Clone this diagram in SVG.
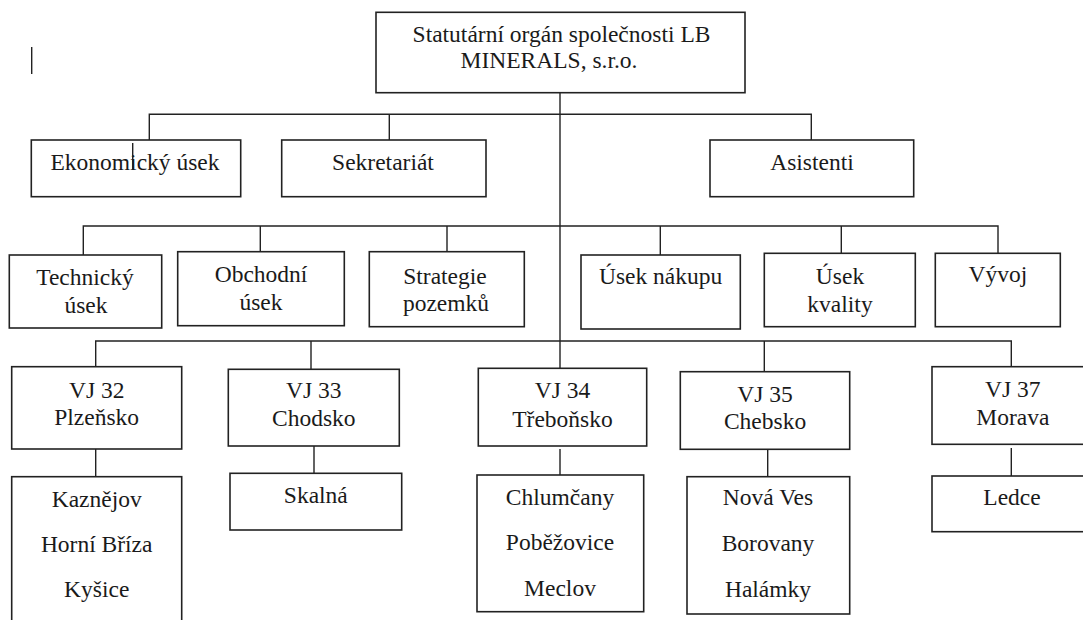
<svg xmlns="http://www.w3.org/2000/svg" width="1083" height="620" viewBox="0 0 1083 620">
<style>
.box{fill:#fff;stroke:#222;stroke-width:1.6}
.ln{fill:none;stroke:#222;stroke-width:1.4}
.t{font-family:"Liberation Serif","Times New Roman",serif;font-size:23.5px;fill:#1a1a1a;text-anchor:middle}
</style>
<rect width="1083" height="620" fill="#fff"/>
<g id="connectors">
<path class="ln" d="M560 93V341"/>
<path class="ln" d="M149.3 140V114.3H811.3V140M389.3 114.3V140"/>
<path class="ln" d="M83.3 255V226H998V253.3M260.3 226V251.7M447 226V251.7M660.3 226V255M841.3 226V253.3"/>
<path class="ln" d="M95.7 366.7V341H1011.3V366.7M311 341V369.3M764.3 341V371.7M560 341V368.3"/>
<path class="ln" d="M95.7 449V476.7M314 446V473.3M560 449V475M767.7 449.3V476.7M1011.3 448V476"/>
</g>
<g id="cursor">
<path class="ln" d="M31.7 47V74"/>
</g>
<g id="n-top" class="t">
<rect class="box" x="376" y="12.3" width="369" height="80.4"/>
<text x="561.5" y="41.7">Statutární orgán společnosti LB</text>
<text x="549" y="68.3">MINERALS, s.r.o.</text>
</g>
<g id="n-ekonomicky" class="t">
<rect class="box" x="31.3" y="140" width="209.4" height="56.7"/>
<text x="135" y="170">Ekonomický úsek</text>
<path class="ln" d="M132.7 143V170"/>
</g>
<g id="n-sekretariat" class="t">
<rect class="box" x="281.7" y="140" width="204.3" height="56.7"/>
<text x="383" y="170">Sekretariát</text>
</g>
<g id="n-asistenti" class="t">
<rect class="box" x="710" y="140" width="203.7" height="56.7"/>
<text x="812" y="170">Asistenti</text>
</g>
<g id="n-technicky" class="t">
<rect class="box" x="9.3" y="255" width="152.4" height="73"/>
<text x="85" y="285">Technický</text>
<text x="86" y="313">úsek</text>
</g>
<g id="n-obchodni" class="t">
<rect class="box" x="177.7" y="251.7" width="166.6" height="74"/>
<text x="261" y="282">Obchodní</text>
<text x="261" y="310">úsek</text>
</g>
<g id="n-strategie" class="t">
<rect class="box" x="369.3" y="251.7" width="155" height="75"/>
<text x="445" y="284">Strategie</text>
<text x="446" y="311">pozemků</text>
</g>
<g id="n-nakup" class="t">
<rect class="box" x="581" y="255" width="159.3" height="74"/>
<text x="660.6" y="284">Úsek nákupu</text>
</g>
<g id="n-kvalita" class="t">
<rect class="box" x="764.3" y="253.3" width="151" height="73.4"/>
<text x="840" y="284">Úsek</text>
<text x="840" y="311.7">kvality</text>
</g>
<g id="n-vyvoj" class="t">
<rect class="box" x="935.3" y="253.3" width="125" height="73.4"/>
<text x="997.8" y="281.7">Vývoj</text>
</g>
<g id="n-vj32" class="t">
<rect class="box" x="11.7" y="366.7" width="170" height="82.3"/>
<text x="96.7" y="398.3">VJ 32</text>
<text x="96.7" y="425">Plzeňsko</text>
</g>
<g id="n-vj33" class="t">
<rect class="box" x="228.3" y="369.3" width="171" height="76.7"/>
<text x="313.8" y="398.3">VJ 33</text>
<text x="313.8" y="426">Chodsko</text>
</g>
<g id="n-vj34" class="t">
<rect class="box" x="478.3" y="368.3" width="168.4" height="77.7"/>
<text x="562.5" y="398.3">VJ 34</text>
<text x="562.5" y="426.7">Třeboňsko</text>
</g>
<g id="n-vj35" class="t">
<rect class="box" x="680.3" y="371.7" width="169.4" height="77.6"/>
<text x="765" y="401.7">VJ 35</text>
<text x="765" y="429.3">Chebsko</text>
</g>
<g id="n-vj37" class="t">
<rect class="box" x="932" y="366.7" width="162" height="77.6"/>
<text x="1012.8" y="396.7">VJ 37</text>
<text x="1012.8" y="425">Morava</text>
</g>
<g id="n-plzensko-list" class="t">
<rect class="box" x="11.7" y="476.7" width="170" height="160"/>
<text x="96.7" y="506.7">Kaznějov</text>
<text x="96.7" y="551.7">Horní Bříza</text>
<text x="96.7" y="596.7">Kyšice</text>
</g>
<g id="n-skalna" class="t">
<rect class="box" x="230" y="473.3" width="171.7" height="56.7"/>
<text x="315.8" y="503.3">Skalná</text>
</g>
<g id="n-trebonsko-list" class="t">
<rect class="box" x="477" y="475" width="166.7" height="136.7"/>
<text x="560" y="505">Chlumčany</text>
<text x="560" y="550">Poběžovice</text>
<text x="560" y="596">Meclov</text>
</g>
<g id="n-chebsko-list" class="t">
<rect class="box" x="687" y="476.7" width="162.7" height="137.3"/>
<text x="768" y="505">Nová Ves</text>
<text x="768" y="550.7">Borovany</text>
<text x="768" y="596.7">Halámky</text>
</g>
<g id="n-ledce" class="t">
<rect class="box" x="932" y="476" width="162" height="55.7"/>
<text x="1012" y="505">Ledce</text>
</g>
</svg>
